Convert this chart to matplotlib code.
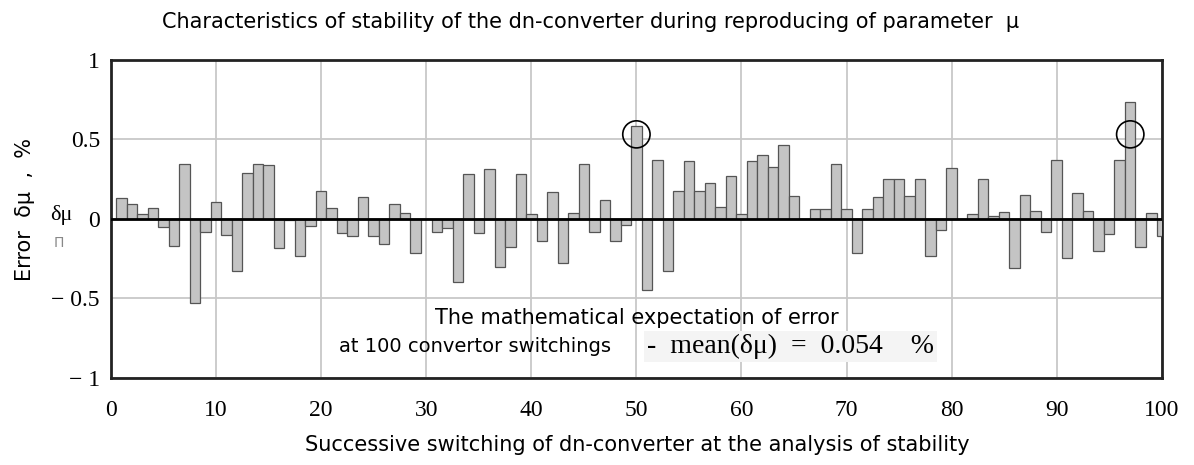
import numpy as np
import matplotlib
matplotlib.use("Agg")
import matplotlib.pyplot as plt
from matplotlib.patches import Ellipse

# switching number and error of reproduced mu, %
switching = list(range(1, 101))
error = [
    0.13, 0.094, 0.027, 0.07, -0.05, -0.17, 0.345, -0.53, -0.084, 0.105,
    -0.10, -0.33, 0.29, 0.345, 0.335, -0.185, -0.01, -0.236, -0.045, 0.177,
    0.07, -0.092, -0.108, 0.135, -0.105, -0.16, 0.093, 0.035, -0.215, 0.0,
    -0.08, -0.055, -0.40, 0.28, -0.09, 0.31, -0.30, -0.18, 0.28, 0.027,
    -0.14, 0.17, -0.276, 0.038, 0.345, -0.084, 0.115, -0.14, -0.04, 0.585,
    -0.445, 0.372, -0.33, 0.174, 0.36, 0.174, 0.226, 0.073, 0.268, 0.027,
    0.36, 0.40, 0.324, 0.464, 0.14, 0.0, 0.063, 0.063, 0.345, 0.063,
    -0.213, 0.063, 0.135, 0.25, 0.25, 0.146, 0.25, -0.236, -0.073, 0.32,
    0.0, 0.03, 0.25, 0.015, 0.042, -0.31, 0.15, 0.052, -0.083, 0.372,
    -0.245, 0.16, 0.048, -0.2, -0.098, 0.372, 0.736, -0.178, 0.036, -0.105,
]
x_ticks = [0, 10, 20, 30, 40, 50, 60, 70, 80, 90, 100]
y_ticks = [-1, -0.5, 0, 0.5, 1]
y_tick_labels = ["\u2212 1", "\u2212 0.5", "0", "0.5", "1"]
marked = [50, 97]
mean_error = 0.054

SANS = ["DejaVu Sans"]
SERIF = ["Liberation Serif", "DejaVu Serif"]

fig = plt.figure(figsize=(11.94, 4.65), dpi=100)
ax = fig.add_axes([0.093, 0.187, 0.880, 0.685])

ax.bar(switching, error, width=1.0, color="#c4c4c4", edgecolor="#555555",
       linewidth=0.9, zorder=3)
ax.axhline(0, color="black", linewidth=2.0, zorder=4)

ax.set_xlim(0, 100)
ax.set_ylim(-1, 1)
ax.set_xticks(x_ticks)
ax.set_yticks(y_ticks)
ax.set_yticklabels(y_tick_labels)
ax.grid(True, color="#c8c8c8", linewidth=1.3, zorder=0)
ax.tick_params(axis="y", length=0, pad=8)
ax.tick_params(axis="x", length=0, pad=16)
for lab in ax.get_xticklabels() + ax.get_yticklabels():
    lab.set_family(SERIF)
    lab.set_fontsize(17)
for s in ax.spines.values():
    s.set_linewidth(2.0)
    s.set_color("#222222")

# circles around the peaks
for m in marked:
    v = error[switching.index(m)]
    cy = min(v, 0.55) - 0.02 if m == 50 else 0.53
    ax.add_patch(Ellipse((m, cy), width=2.6, height=0.17, fill=False,
                         edgecolor="black", linewidth=1.2, zorder=5))

ax.text(0.50, 0.19, "The mathematical expectation of error", transform=ax.transAxes,
        ha="center", va="center", fontsize=15, family=SANS, zorder=6)
ax.text(0.476, 0.10, "at 100 convertor switchings", transform=ax.transAxes,
        ha="right", va="center", fontsize=14, family=SANS, zorder=6)
ax.text(0.510, 0.10, f"-  mean(\u03b4\u03bc)  =  {mean_error}    %", transform=ax.transAxes,
        ha="left", va="center", fontsize=20, family=SERIF, zorder=6,
        bbox=dict(boxstyle="square,pad=0.1", facecolor="#f4f4f4", edgecolor="none"))

fig.text(0.495, 0.952, "Characteristics of stability of the dn-converter during reproducing of parameter  \u03bc",
         ha="center", va="center", fontsize=15, family=SANS)
fig.text(0.534, 0.043, "Successive switching of dn-converter at the analysis of stability",
         ha="center", va="center", fontsize=15, family=SANS)
fig.text(0.021, 0.55, "Error  \u03b4\u03bc  ,  %", rotation=90, ha="center", va="center",
         fontsize=15, family=SANS)
fig.text(0.051, 0.538, "\u03b4\u03bc", ha="center", va="center",
         fontsize=16, family=SERIF)
fig.text(0.049, 0.478, "\u041f", ha="center", va="center", fontsize=10,
         color="#888888", family=SANS)

fig.savefig("out.png", dpi=100)
